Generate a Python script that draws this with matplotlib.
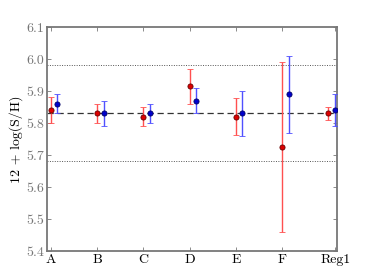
import matplotlib

matplotlib.use("Agg")
import matplotlib.pyplot as plt
import numpy as np

plt.rcParams["font.family"] = "serif"
plt.rcParams["font.serif"] = ["cmr10", "DejaVu Serif"]
plt.rcParams["axes.formatter.use_mathtext"] = True

labels = ["A", "B", "C", "D", "E", "F", "Reg1"]
tick_pos = [0, 1, 2, 3, 4, 5, 6.15]

red_x = [0, 1, 2, 3, 4, 5, 6]
red_y = [5.84, 5.83, 5.82, 5.915, 5.82, 5.725, 5.83]
red_err = [0.04, 0.03, 0.03, 0.055, 0.058, 0.265, 0.02]

blue_x = [0.14, 1.14, 2.14, 3.14, 4.14, 5.14, 6.15]
blue_y = [5.86, 5.83, 5.83, 5.87, 5.83, 5.89, 5.84]
blue_err = [0.03, 0.04, 0.03, 0.04, 0.07, 0.12, 0.05]

mean_val = 5.83
spread = 0.15

fig = plt.figure(figsize=(3.74, 2.80), dpi=100)
ax = fig.add_axes([0.125, 0.1036, 0.775, 0.800])

ax.axhline(mean_val, color="#333333", ls=(0, (5, 3)), lw=0.9, zorder=1)
ax.axhline(mean_val + spread, color="#555555", ls=(0, (1, 1.5)), lw=0.7, zorder=1)
ax.axhline(mean_val - spread, color="#555555", ls=(0, (1, 1.5)), lw=0.7, zorder=1)

ax.errorbar(red_x, red_y, yerr=red_err, fmt="o", color="#dd0000", ms=3.7,
            mec="#660000", mew=0.6, ecolor="#ff5050", elinewidth=1.0,
            capsize=2.5, capthick=0.8, zorder=3)
ax.errorbar(blue_x, blue_y, yerr=blue_err, fmt="o", color="#0000cc", ms=3.7,
            mec="#000066", mew=0.6, ecolor="#5050ff", elinewidth=1.0,
            capsize=2.5, capthick=0.8, zorder=3)

ax.set_xlim(-0.09, 6.18)
ax.set_ylim(5.4, 6.1)
ax.set_xticks(tick_pos)
ax.set_xticklabels(labels, fontsize=10)
ax.set_yticks(np.arange(5.4, 6.11, 0.1))
ax.set_yticklabels([f"{v:.1f}" for v in np.arange(5.4, 6.11, 0.1)],
                   fontsize=10, color="#777777")
ax.tick_params(direction="in", top=True, right=True, length=3, width=0.6,
               color="#777777", pad=2)
ax.set_ylabel("12 + log(S/H)", fontsize=10, labelpad=2)
for s in ax.spines.values():
    s.set_color("#777777")
    s.set_linewidth(1.3)

fig.savefig("out.png", dpi=100)
